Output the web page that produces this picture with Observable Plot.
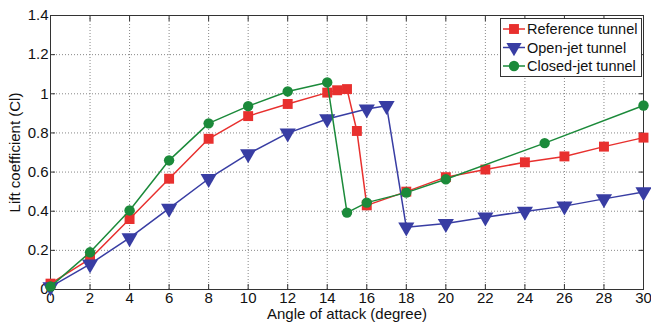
<!DOCTYPE html>
<html><head><meta charset="utf-8">
<script src="https://cdn.jsdelivr.net/npm/d3@7"></script>
<script src="https://cdn.jsdelivr.net/npm/@observablehq/plot@0.6"></script>
<style>body{margin:0;background:#fff}</style>
</head><body><div id="chart"></div>
<script>
const seriesNames = ["Reference tunnel", "Open-jet tunnel", "Closed-jet tunnel"];
const colors = ["#e8302e", "#383da3", "#1b8a3a"];

const refX = [0, 2, 4, 6, 8, 10, 12, 14, 14.5, 15, 15.5, 16, 18, 20, 22, 24, 26, 28, 30];
const refY = [0.03, 0.157, 0.36, 0.566, 0.77, 0.886, 0.948, 1.006, 1.018, 1.024, 0.81, 0.43, 0.5, 0.574, 0.613, 0.65, 0.68, 0.73, 0.776];

const openX = [0, 2, 4, 6, 8, 10, 12, 14, 16, 17, 18, 20, 22, 24, 26, 28, 30];
const openY = [0.013, 0.13, 0.264, 0.414, 0.566, 0.693, 0.799, 0.871, 0.922, 0.939, 0.318, 0.337, 0.369, 0.399, 0.426, 0.463, 0.498];

const closedX = [0, 2, 4, 6, 8, 10, 12, 14, 15, 16, 18, 20, 25, 30];
const closedY = [0.015, 0.19, 0.404, 0.66, 0.849, 0.937, 1.012, 1.058, 0.393, 0.444, 0.495, 0.563, 0.748, 0.94];

const xTicks = [0, 2, 4, 6, 8, 10, 12, 14, 16, 18, 20, 22, 24, 26, 28, 30];
const yTicks = [0, 0.2, 0.4, 0.6, 0.8, 1, 1.2, 1.4];

const ref = refX.map((x, i) => ({x, y: refY[i]}));
const open = openX.map((x, i) => ({x, y: openY[i]}));
const closed = closedX.map((x, i) => ({x, y: closedY[i]}));

const font = "Liberation Sans, Arial, sans-serif";

const plot = Plot.plot({
  width: 651,
  height: 324,
  marginLeft: 50,
  marginRight: 8,
  marginTop: 15,
  marginBottom: 35,
  style: {fontFamily: font, fontSize: "15px", color: "#111", background: "#fff"},
  x: {domain: [0, 30]},
  y: {domain: [0, 1.4]},
  marks: [
    Plot.gridX(xTicks, {stroke: "#888", strokeOpacity: 1, strokeDasharray: "1,2"}),
    Plot.gridY(yTicks, {stroke: "#888", strokeOpacity: 1, strokeDasharray: "1,2"}),
    Plot.axisX(xTicks, {tickSize: -5, tickPadding: 8, tickFormat: d => String(d), stroke: "#333",
      label: "Angle of attack (degree)", labelAnchor: "center", labelArrow: "none", labelOffset: 29, fontSize: 15}),
    Plot.axisX(xTicks, {anchor: "top", tickSize: -5, tickFormat: () => "", stroke: "#333", label: null}),
    Plot.axisY(yTicks, {tickSize: -5, tickPadding: 7, tickFormat: d => String(d), stroke: "#333",
      label: "Lift coefficient (Cl)", labelAnchor: "center", labelArrow: "none", labelOffset: 41, fontSize: 15}),
    Plot.axisY(yTicks, {anchor: "right", tickSize: -5, tickFormat: () => "", stroke: "#333", label: null}),
    Plot.frame({stroke: "#333"}),
    Plot.line(ref, {x: "x", y: "y", stroke: colors[0], strokeWidth: 1.5}),
    Plot.dot(ref, {x: "x", y: "y", symbol: "square", fill: colors[0], r: 5.6}),
    Plot.line(open, {x: "x", y: "y", stroke: colors[1], strokeWidth: 1.5}),
    Plot.dot(open, {x: "x", y: "y", symbol: "triangle", fill: colors[1], r: 6, rotate: 180}),
    Plot.line(closed, {x: "x", y: "y", stroke: colors[2], strokeWidth: 1.5}),
    Plot.dot(closed, {x: "x", y: "y", symbol: "circle", fill: colors[2], r: 5.2})
  ]
});

document.getElementById("chart").appendChild(plot);

// legend (MATLAB-style box inside the axes)
const svg = d3.select(plot);
const lg = svg.append("g").attr("font-family", font).attr("font-size", 14.5).attr("text-anchor", "start");
lg.append("rect").attr("x", 500.5).attr("y", 18.5).attr("width", 141).attr("height", 58)
  .attr("fill", "#fff").attr("stroke", "#333");
const symbols = [d3.symbolSquare, d3.symbolTriangle, d3.symbolCircle];
const sizes = [98, 100, 85];
seriesNames.forEach((name, i) => {
  const cy = 29 + i * 18.5;
  lg.append("line").attr("x1", 503).attr("x2", 525).attr("y1", cy).attr("y2", cy)
    .attr("stroke", colors[i]).attr("stroke-width", 1.5);
  lg.append("path").attr("d", d3.symbol(symbols[i], sizes[i])())
    .attr("transform", `translate(514,${cy})` + (i === 1 ? " rotate(180)" : ""))
    .attr("fill", colors[i]);
  lg.append("text").attr("x", 527).attr("y", cy).attr("dy", "0.35em").attr("fill", "#111").text(name);
});
</script>
</body></html>
